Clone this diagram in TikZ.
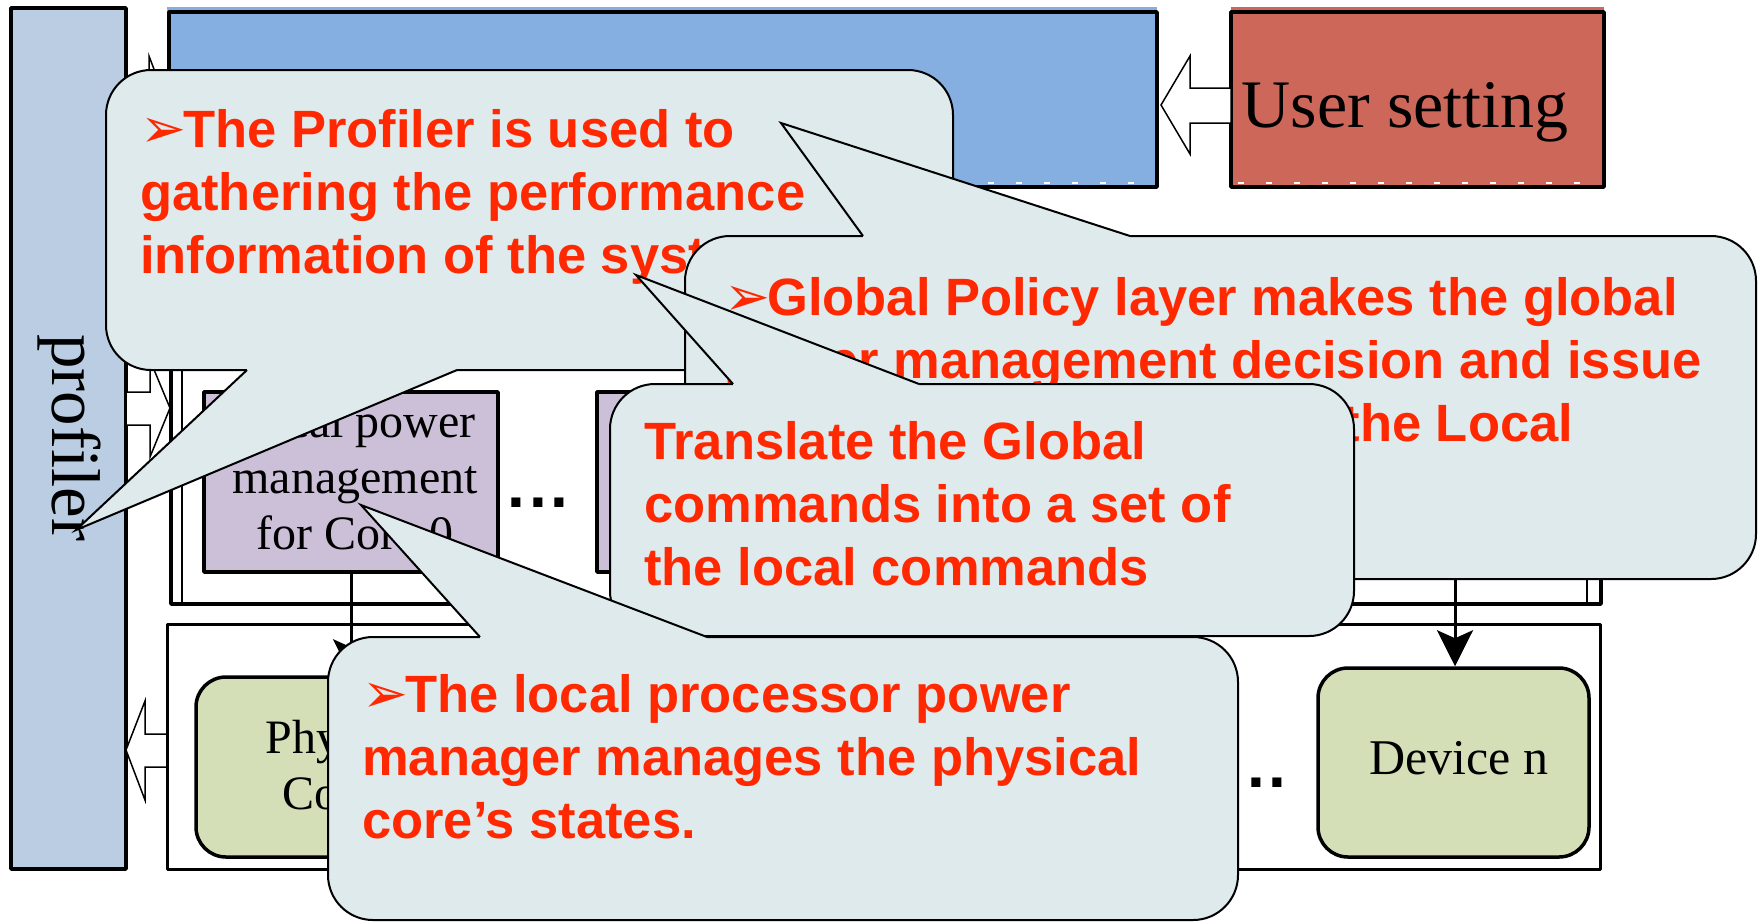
\documentclass[tikz,border=0pt]{standalone}
\usepackage{fontspec}
\setmainfont{Liberation Serif}
\newfontfamily\calloutfont{Liberation Sans}
\newfontfamily\symfont{DejaVu Sans}
\usetikzlibrary{arrows.meta}
\definecolor{profblue}{RGB}{186,205,227}
\definecolor{globblue}{RGB}{133,175,224}
\definecolor{userred}{RGB}{205,103,90}
\definecolor{lpmpurple}{RGB}{203,192,216}
\definecolor{phygreen}{RGB}{213,223,183}
\definecolor{calloutfill}{RGB}{223,234,236}
\definecolor{calloutred}{RGB}{255,40,0}
\newcommand{\bul}{{\symfont\fontsize{55}{63}\selectfont ➢}\kern-3pt}
\tikzset{
  box/.style={draw, line width=3.5pt, inner sep=0pt},
  layerbox/.style={draw, line width=3.5pt, inner sep=0pt},
  hollow/.style={draw, fill=white, line width=1.5pt, line join=miter},
  bubble/.style={draw, fill=calloutfill, line width=2pt, rounded corners=45pt, inner sep=0pt},
  bubbletail/.style={line width=2pt, line join=miter},
  bigarrow/.style={line width=3pt, -{Stealth[length=36pt,width=36pt,inset=8pt]}},
  bubbletext/.style={text=calloutred, font=\calloutfont\bfseries\fontsize{52.5}{63}\selectfont, align=left, anchor=base west, inner sep=0pt},
  boxtext/.style={font=\fontsize{48}{56}\selectfont, align=center, anchor=base, inner sep=0pt},
  dots/.style={font=\calloutfont\bfseries\fontsize{64}{64}\selectfont, anchor=base, inner sep=0pt}
}
\begin{document}
\begin{tikzpicture}[x=1pt, y=-1pt, line join=round]
  \useasboundingbox (0,0) rectangle (1758,922);
  % profiler bar
  \node[box, fill=profblue, minimum width=115pt, minimum height=861pt] (profiler) at (68.5,438.5) {};
  \node[rotate=-90, anchor=base, inner sep=0pt, font=\fontsize{69}{69}\selectfont] (proftext) at (52,437.5) {profiler};
  % global policy and user setting
  \fill[globblue] (167,7) rectangle (1157,187);
  \node[box, minimum width=988pt, minimum height=175pt] (global) at (663,99.5) {};
  \fill[userred] (1231,7) rectangle (1604,187);
  \node[box, minimum width=373pt, minimum height=175pt] (user) at (1417.5,99.5) {};
  \node[anchor=base, inner sep=0pt, font=\fontsize{68}{68}\selectfont] (usertext) at (1405,127) {User setting};
  \draw[white, line width=2pt, dash pattern=on 6pt off 22pt] (176,183) -- (1152,183);
  \draw[white, line width=2pt, dash pattern=on 6pt off 22pt] (1238,183) -- (1600,183);
  % hollow arrows
  \draw[hollow] (1231,88) -- (1190,88) -- (1190,56) -- (1161,105) -- (1190,154) -- (1190,123) -- (1231,123) -- cycle;
  \draw[hollow] (126,90) -- (149,90) -- (149,56) -- (168,106) -- (149,156) -- (149,122) -- (126,122) -- cycle;
  \draw[hollow] (126,392) -- (150,392) -- (150,360) -- (170,408) -- (150,457) -- (150,425) -- (126,425) -- cycle;
  \draw[hollow] (167,734) -- (145,734) -- (145,701) -- (126,750) -- (145,800) -- (145,767) -- (167,767) -- cycle;
  % local policy layer
  \node[layerbox, minimum width=1430pt, minimum height=304pt] (locallayer) at (886,452) {};
  \node[layerbox, line width=2.5pt, minimum width=1405pt, minimum height=304pt] (localinner) at (884.5,452) {};
  \node[box, fill=lpmpurple, minimum width=294pt, minimum height=180pt] (lpm0) at (351,482) {};
  \node[boxtext] (lpm0text) at (355,549) {Local power\\management\\for Core 0};
  \node[box, fill=lpmpurple, minimum width=293pt, minimum height=180pt] (lpm1) at (743.5,482) {};
  \node[dots] (dotsa) at (538,507) {.\kern4pt.\kern4pt.};
  \coordinate (lpmn) at (1455,560);
  % physical layer
  \node[layerbox, line width=3pt, minimum width=1433pt, minimum height=245pt] (physlayer) at (883.5,746.5) {};
  \node[box, fill=phygreen, rounded corners=30pt, minimum width=302pt, minimum height=180pt] (phycore) at (347,767) {};
  \node[boxtext] (phycoretext) at (347,809) {Physical\\Core 0};
  \node[box, fill=phygreen, rounded corners=30pt, minimum width=271pt, minimum height=189pt] (devn) at (1453.5,762.5) {};
  \node[boxtext, font=\fontsize{50}{56}\selectfont] (devntext) at (1459,774) {Device n};
  \node[dots] (dotsb) at (1256,787) {.\kern4pt.\kern4pt.};
  \draw[bigarrow] (lpm0.south) -- (lpm0.south |- phycore.north);
  \draw[bigarrow] (lpmn) -- (lpmn |- devn.north);
  % callout: profiler
  \node[bubble, minimum width=847pt, minimum height=300pt] (cprof) at (529.5,220) {};
  \fill[calloutfill] (247,370) -- (76,530) -- (457,370) -- (457,364) -- (247,364) -- cycle;
  \draw[bubbletail] (247,370) -- (76,530) -- (457,370);
  \node[bubbletext] (cproftext) at (140,273) {\bul The Profiler is used to\\gathering the performance\\information of the system};
  % callout: global policy
  \node[bubble, minimum width=1071pt, minimum height=343pt] (cglob) at (1220.5,407.5) {};
  \fill[calloutfill] (863,236) -- (781,123) -- (1130,236) -- (1130,242) -- (863,242) -- cycle;
  \draw[bubbletail] (863,236) -- (781,123) -- (1130,236);
  \node[bubbletext] (cglobtext) at (724,441) {\bul Global Policy layer makes the global\\power management decision and issue\\the global commands to the Local};
  % callout: translate
  \node[bubble, minimum width=744pt, minimum height=252pt] (ctrans) at (982,510) {};
  \fill[calloutfill] (733,384) -- (636,275) -- (919,384) -- (919,390) -- (733,390) -- cycle;
  \draw[bubbletail] (733,384) -- (636,275) -- (919,384);
  \node[bubbletext] (ctranstext) at (644,585) {Translate the Global\\commands into a set of\\the local commands};
  % callout: local processor power manager
  \node[bubble, minimum width=910pt, minimum height=283pt] (clocal) at (783,778.5) {};
  \fill[calloutfill] (480,637) -- (361,505) -- (707,637) -- (707,643) -- (480,643) -- cycle;
  \draw[bubbletail] (480,637) -- (361,505) -- (707,637);
  \node[bubbletext] (clocaltext) at (362,838) {\bul The local processor power\\manager manages the physical\\core’s states.};
\end{tikzpicture}
\end{document}
